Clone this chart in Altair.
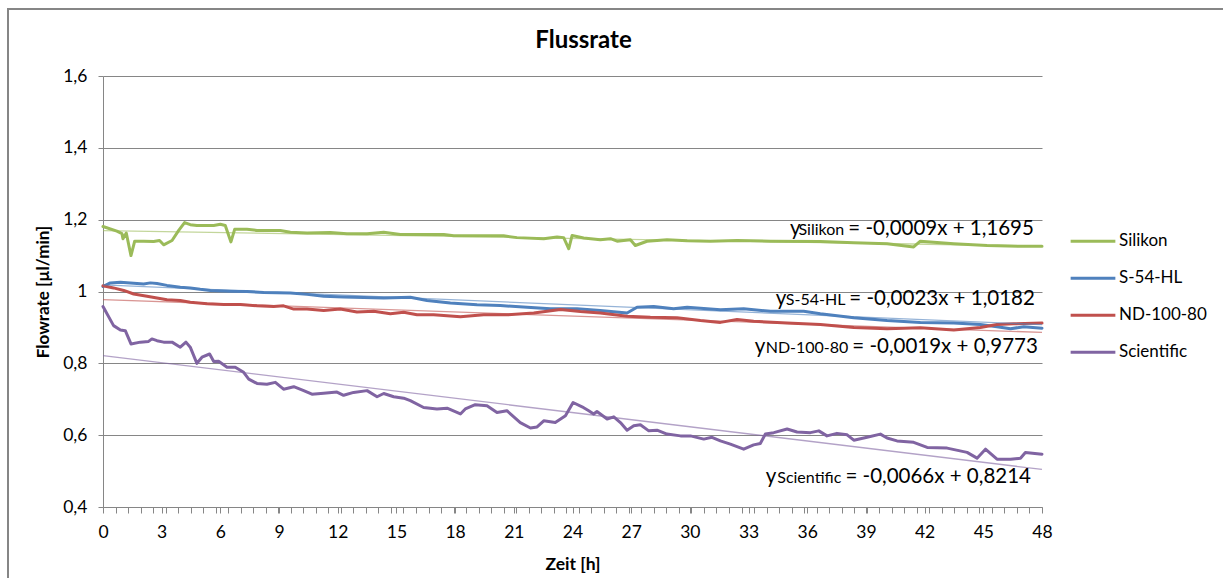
import altair as alt
import pandas as pd

# ---------------- data ----------------
series_names = ["Silikon", "S-54-HL", "ND-100-80", "Scientific"]
series_colors = ["#9BBB59", "#4F81BD", "#C0504D", "#8064A2"]

silikon_t = [0, 0.71, 0.97, 1.02, 1.19, 1.43, 1.62, 2.08, 2.59, 2.89, 3.10, 3.53, 3.87, 4.17, 4.46,
             4.80, 5.66, 6.0, 6.25, 6.54, 6.73, 7.36, 7.87, 9.06, 9.58, 10.43, 11.62, 12.47, 13.50, 14.35,
             15.2, 17.42, 17.93, 20.48, 21.16, 22.53, 23.21, 23.55, 23.81, 23.98, 24.57, 25.42, 25.94, 26.28, 26.96,
             27.21, 27.81, 28.83, 29.86, 31.05, 32.41, 34.12, 36.67, 38.38, 40.08, 41.44, 41.78, 43.49, 45.19, 46.9, 48]
silikon_v = [1.181, 1.168, 1.161, 1.147, 1.163, 1.100, 1.140, 1.140, 1.139, 1.142, 1.130, 1.142, 1.170, 1.192, 1.186,
             1.184, 1.184, 1.187, 1.184, 1.138, 1.173, 1.173, 1.170, 1.170, 1.165, 1.163, 1.164, 1.161, 1.161, 1.165,
             1.159, 1.159, 1.155, 1.155, 1.150, 1.147, 1.152, 1.150, 1.119, 1.156, 1.149, 1.144, 1.147, 1.140, 1.144,
             1.128, 1.140, 1.144, 1.141, 1.140, 1.142, 1.140, 1.139, 1.136, 1.133, 1.124, 1.140, 1.133, 1.128, 1.126, 1.126]

s54_t = [0, 0.37, 0.89, 1.57, 2.08, 2.42, 2.76, 3.27, 3.95, 4.46, 4.97, 5.49, 6.51, 7.36, 8.21,
         9.58, 10.43, 11.28, 12.30, 13.33, 14.35, 15.71, 16.56, 17.76, 19.12, 20.31, 21.68, 22.87, 24.23, 25.42,
         26.79, 27.3, 28.15, 29.17, 29.86, 30.88, 31.56, 32.75, 34.12, 35.82, 36.67, 38.38, 40.08, 41.78, 43.49,
         44.85, 45.7, 46.39, 47.07, 48]
s54_v = [1.014, 1.024, 1.026, 1.023, 1.021, 1.024, 1.022, 1.017, 1.012, 1.010, 1.006, 1.003, 1.001, 1.000, 0.997,
         0.996, 0.992, 0.987, 0.985, 0.983, 0.982, 0.984, 0.975, 0.968, 0.963, 0.961, 0.956, 0.952, 0.952, 0.947,
         0.940, 0.956, 0.958, 0.952, 0.956, 0.952, 0.949, 0.952, 0.945, 0.945, 0.938, 0.927, 0.919, 0.914, 0.912,
         0.908, 0.902, 0.896, 0.902, 0.898]

nd_t = [0, 0.54, 1.06, 1.57, 2.25, 2.76, 3.27, 3.95, 4.46, 5.32, 6.17, 7.02, 7.87, 8.72, 9.23,
        9.75, 10.43, 11.28, 12.13, 12.98, 13.84, 14.69, 15.37, 16.05, 16.9, 18.27, 19.46, 20.65, 22.02, 23.38,
        24.40, 25.42, 26.79, 27.98, 29.34, 30.54, 31.56, 32.41, 33.26, 34.97, 36.67, 38.38, 40.08, 41.78, 43.49,
        44.85, 45.7, 46.56, 48]
nd_v = [1.016, 1.010, 1.003, 0.993, 0.987, 0.982, 0.977, 0.975, 0.970, 0.966, 0.964, 0.964, 0.960, 0.958, 0.960,
        0.951, 0.951, 0.947, 0.951, 0.943, 0.945, 0.938, 0.942, 0.935, 0.935, 0.930, 0.935, 0.935, 0.940, 0.950,
        0.944, 0.940, 0.931, 0.928, 0.927, 0.919, 0.914, 0.922, 0.917, 0.912, 0.908, 0.900, 0.896, 0.899, 0.893,
        0.900, 0.908, 0.910, 0.912]

sci_t = [0, 0.54, 0.89, 1.14, 1.43, 1.91, 2.33, 2.50, 2.76, 3.10, 3.53, 3.95, 4.24, 4.46, 4.80,
         5.06, 5.45, 5.66, 5.91, 6.34, 6.76, 7.19, 7.45, 7.87, 8.38, 8.81, 9.23, 9.75, 10.26, 10.68,
         11.28, 11.96, 12.30, 12.81, 13.50, 14.01, 14.35, 14.86, 15.37, 15.71, 16.39, 17.07, 17.59, 18.27, 18.52,
         19.03, 19.63, 20.14, 20.65, 21.33, 21.85, 22.19, 22.53, 23.12, 23.64, 24.03, 24.49, 24.83, 25.08, 25.25,
         25.77, 26.11, 26.45, 26.79, 27.13, 27.47, 27.9, 28.32, 28.83, 29.52, 30.03, 30.71, 31.13, 31.56, 32.07,
         32.75, 33.26, 33.6, 33.86, 34.29, 34.97, 35.48, 36.16, 36.59, 37.01, 37.52, 38.04, 38.38, 39.06, 39.74,
         40.08, 40.59, 41.44, 42.13, 43.15, 44.17, 44.68, 45.11, 45.7, 46.39, 46.9, 47.15, 48]
sci_v = [0.958, 0.905, 0.893, 0.891, 0.854, 0.859, 0.861, 0.868, 0.863, 0.859, 0.859, 0.845, 0.859, 0.845, 0.800,
         0.817, 0.826, 0.805, 0.806, 0.789, 0.789, 0.775, 0.756, 0.744, 0.742, 0.747, 0.728, 0.735, 0.724, 0.714,
         0.717, 0.720, 0.711, 0.719, 0.724, 0.707, 0.716, 0.707, 0.703, 0.696, 0.677, 0.673, 0.675, 0.659, 0.673,
         0.685, 0.682, 0.663, 0.668, 0.635, 0.620, 0.623, 0.640, 0.635, 0.654, 0.691, 0.679, 0.668, 0.659, 0.666,
         0.645, 0.651, 0.635, 0.614, 0.626, 0.629, 0.612, 0.614, 0.603, 0.598, 0.598, 0.589, 0.594, 0.584, 0.575,
         0.561, 0.573, 0.577, 0.603, 0.607, 0.617, 0.609, 0.607, 0.612, 0.598, 0.605, 0.601, 0.586, 0.594, 0.603,
         0.592, 0.584, 0.580, 0.566, 0.564, 0.552, 0.536, 0.561, 0.533, 0.533, 0.536, 0.552, 0.547]

# linear trendlines as printed on the chart: y = slope * x + intercept
trend_slope = [-0.0009, -0.0023, -0.0019, -0.0066]
trend_intercept = [1.1695, 1.0182, 0.9773, 0.8214]
eq_sub = ["Silikon", "S-54-HL", "ND-100-80", "Scientific"]
eq_rest = ["= -0,0009x + 1,1695", "= -0,0023x + 1,0182", "= -0,0019x + 0,9773", "= -0,0066x + 0,8214"]

x_labels = list(range(0, 49, 3))
x_minor_ticks = [round(i * 48 / 75, 4) for i in range(76)]   # Excel category tick marks
y_labels = [0.4, 0.6, 0.8, 1.0, 1.2, 1.4, 1.6]

# ---------------- tables ----------------
rows = []
for name, ts, vs in zip(series_names, [silikon_t, s54_t, nd_t, sci_t], [silikon_v, s54_v, nd_v, sci_v]):
    assert len(ts) == len(vs), name
    rows += [{"series": name, "t": t, "v": v} for t, v in zip(ts, vs)]
df = pd.DataFrame(rows)

trend_rows = []
for name, m, b in zip(series_names, trend_slope, trend_intercept):
    for t in (0, 48):
        trend_rows.append({"series": name, "t": t, "v": b + m * t})
df_trend = pd.DataFrame(trend_rows)

# annotation anchor points of the trendline equations (hours, flowrate)
eq_anchor_y_t = [35.66, 34.93, 33.86, 34.42]      # right edge of the "y"
eq_anchor_sub_t = [37.89, 37.95, 38.10, 37.74]    # right edge of the subscript
eq_anchor_rest_t = [38.10, 38.15, 38.30, 37.95]   # left edge of "= ..."
eq_anchor_v = [1.158, 0.9613, 0.8281, 0.4660]     # baseline
df_eq_y = pd.DataFrame({"t": eq_anchor_y_t, "v": eq_anchor_v, "label": ["y"] * 4})
df_eq_s = pd.DataFrame({"t": eq_anchor_sub_t, "v": eq_anchor_v, "label": eq_sub})
df_eq_r = pd.DataFrame({"t": eq_anchor_rest_t, "v": eq_anchor_v, "label": eq_rest})

frame_df = pd.DataFrame({"k": [0]})

# ---------------- chart ----------------
FONT = "Lato"
GRID = "#868686"
W, H = 939, 431

x_axis_values = sorted(set(x_minor_ticks) | set(float(v) for v in x_labels))
x_enc = alt.X("t:Q", scale=alt.Scale(domain=[0, 48], nice=False, zero=False), axis=alt.Axis(
    values=x_axis_values,
    labelExpr="abs(datum.value - 3 * round(datum.value / 3)) < 0.001 ? format(datum.value, 'd') : ''",
    ticks=True, tickSize=6, tickColor=GRID, tickWidth=1, grid=False, labelFlush=False,
    labelOverlap=False, labelPadding=10, domainColor=GRID, labelFontSize=17.5, labelColor="#000",
    title="Zeit [h]", titleFontSize=17.5, titleFontWeight="bold", titleColor="#000", titleY=62,
    titleBaseline="alphabetic"))
y_enc = alt.Y("v:Q", scale=alt.Scale(domain=[0.4, 1.6], nice=False, zero=False), axis=alt.Axis(
    values=y_labels, labelExpr="replace(format(datum.value, '.1~f'), '.', ',')",
    grid=True, gridColor=GRID, gridWidth=1, tickSize=5, tickColor=GRID, domainColor=GRID,
    labelPadding=11, labelFontSize=17.5, labelColor="#000", title="Flowrate [µl/min]",
    titleFontSize=17, titleFontWeight="bold", titleColor="#000", titleAngle=270,
    titleX=-59.5, titleY=H / 2, titleAlign="center", titleBaseline="middle"))
color_scale = alt.Scale(domain=series_names, range=series_colors)

lines = alt.Chart(df).mark_line(strokeWidth=3, strokeJoin="round", strokeCap="round").encode(
    x=x_enc, y=y_enc,
    color=alt.Color("series:N", scale=color_scale, sort=series_names, legend=alt.Legend(
        title=None, orient="none", legendX=966, legendY=147, symbolType="stroke",
        symbolSize=2000, symbolStrokeWidth=3, symbolOpacity=1, labelFontSize=17, labelFont=FONT,
        labelColor="#000", clipHeight=36.7, rowPadding=0, labelOffset=2, padding=0)),
    detail="series:N",
)

trend = alt.Chart(df_trend).mark_line(strokeWidth=1.3, opacity=0.6).encode(
    x=x_enc, y=y_enc, color=alt.Color("series:N", scale=color_scale, legend=None), detail="series:N",
)

eq_y = alt.Chart(df_eq_y).mark_text(align="right", baseline="alphabetic", font=FONT, fontSize=20.5,
                                    color="#000").encode(x=x_enc, y=y_enc, text="label:N")
eq_s = alt.Chart(df_eq_s).mark_text(align="right", baseline="alphabetic", font=FONT, fontSize=16,
                                    color="#000").encode(x=x_enc, y=y_enc, text="label:N")
eq_r = alt.Chart(df_eq_r).mark_text(align="left", baseline="alphabetic", font=FONT, fontSize=20.5,
                                    color="#000").encode(x=x_enc, y=y_enc, text="label:N")

frame_top = alt.Chart(frame_df).mark_rule(color=GRID, strokeWidth=2).encode(
    x=alt.value(-95), x2=alt.value(1125), y=alt.value(-67))
frame_left = alt.Chart(frame_df).mark_rule(color=GRID, strokeWidth=2).encode(
    x=alt.value(-95), y=alt.value(-68), y2=alt.value(510))

chart = alt.layer(lines, trend, eq_y, eq_s, eq_r, frame_top, frame_left).properties(
    width=W, height=H,
    title=alt.TitleParams("Flussrate", font=FONT, fontSize=24, fontWeight="bold", color="#000",
                          anchor="middle", frame="group", dx=11, offset=-65, baseline="alphabetic"),
    autosize=alt.AutoSizeParams(type="none"),
    padding={"left": 103, "top": 76, "right": 181, "bottom": 71},
).configure(font=FONT, background="white").configure_view(stroke=None).configure_axis(
    labelFont=FONT, titleFont=FONT)

chart.save("out.html", embed_options={"renderer": "svg", "actions": False})
